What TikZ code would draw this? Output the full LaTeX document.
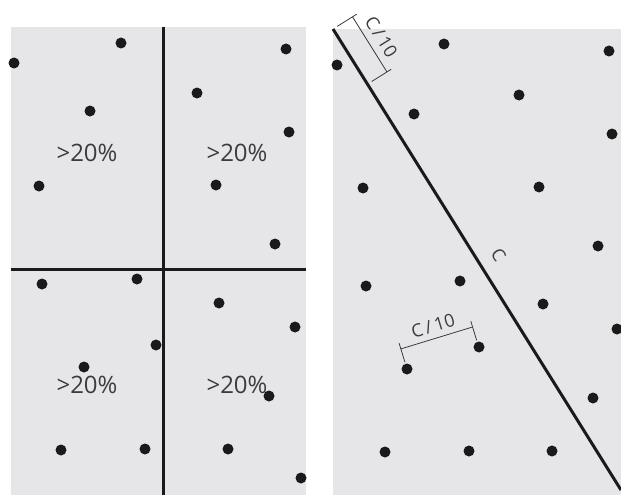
\documentclass[tikz,border=0pt]{standalone}
\usepackage{fontspec}
\setmainfont{Open Sans}
\usepackage{tikz}
\definecolor{panel}{HTML}{E6E6E9}
\definecolor{ink}{HTML}{1A1A1A}
\definecolor{txt}{HTML}{3C3C3C}

\begin{document}
\begin{tikzpicture}[x=1pt,y=-1pt,
cut/.style={line width=3pt,ink},
dot/.style={fill=ink},
dim/.style={line width=0.8pt,txt},
pct/.style={font=\fontsize{24}{28}\selectfont,text=txt,inner sep=0pt},
lbl/.style={font=\fontsize{18}{20}\selectfont,text=txt,inner sep=0pt}
]
\useasboundingbox (0,0) rectangle (621,495);
% the two sample areas
\fill[panel] (11,27) rectangle (306,495);
\fill[panel] (333,29) rectangle (621,495);
% left: four quarters
\coordinate (vt) at (163,27); \coordinate (vb) at (163,495);
\coordinate (hl) at (11,269); \coordinate (hr) at (306,269);
\draw[cut] (vt) -- (vb);
\draw[cut] (hl) -- (hr);
\node[pct] (q1) at (87,153) {>20\%};
\node[pct] (q2) at (237,153) {>20\%};
\node[pct] (q3) at (87,385) {>20\%};
\node[pct] (q4) at (237,385) {>20\%};
% right: diagonal cut with spacing marks
\coordinate (ds) at (333,29); \coordinate (de) at (621,490);
\draw[cut] (ds) -- (de);
\begin{scope}[shift={(ds)},rotate=-58,x=1pt,y=1pt]
\draw[dim] (0,5) -- (0,28);
\draw[dim] (65,5) -- (65,28);
\draw[dim] (0,23) -- (65,23);
\node[lbl,rotate=-58] (c10a) at (32,37) {C\,/\,10};
\node[lbl,rotate=-58] (cl) at (279,21) {C};
\end{scope}
\coordinate (pa) at (407,369); \coordinate (pb) at (479,347);
\begin{scope}[shift={(pa)},rotate=17,x=1pt,y=1pt]
\draw[dim] (0,7) -- (0,27);
\draw[dim] (75,7) -- (75,27);
\draw[dim] (0,21) -- (75,21);
\node[lbl,rotate=17] (c10b) at (37.5,34) {C\,/\,10};
\end{scope}
% points
\foreach \px/\py in {121/43,14/63,90/111,197/93,286/49,289/132,39/186,216/185,
  275/244,42/284,137/279,219/303,295/327,156/345,84/367,269/396,61/450,145/449,
  228/449,301/478}
  \fill[dot] (\px,\py) circle (5.5);
\foreach \px/\py in {444/44,609/51,337/65,519/95,414/114,612/134,363/188,539/187,
  598/246,366/286,460/281,543/304,617/329,593/398,385/452,469/451,552/451}
  \fill[dot] (\px,\py) circle (5.5);
\fill[dot] (pa) circle (5.5);
\fill[dot] (pb) circle (5.5);
\end{tikzpicture}
\end{document}
